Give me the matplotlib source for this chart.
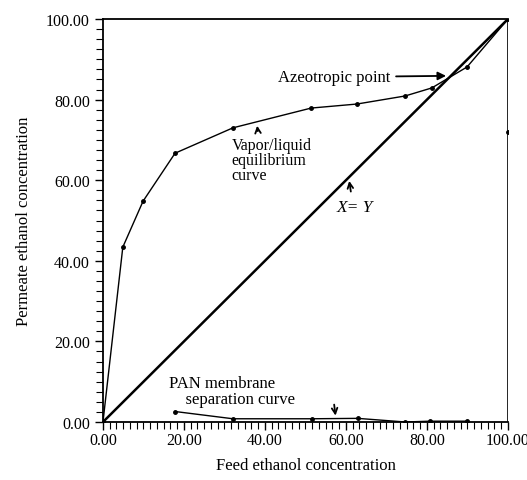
import numpy as np
import matplotlib
matplotlib.use("Agg")
import matplotlib.pyplot as plt
from matplotlib.ticker import MultipleLocator, FormatStrFormatter

plt.rcParams['font.family'] = ['Liberation Serif', 'DejaVu Serif']

# vapor/liquid equilibrium curve
vle_x = [0.0, 4.9, 9.9, 17.8, 32.1, 51.4, 62.7, 74.6, 81.2, 89.9, 100.0]
vle_y = [0.0, 43.4, 54.8, 66.7, 73.0, 77.9, 78.9, 80.9, 82.9, 88.1, 100.0]

# PAN membrane separation curve
pan_x = [17.8, 32.1, 51.5, 62.9, 74.6, 80.7, 89.8]
pan_y = [2.6, 0.8, 0.8, 0.9, 0.0, 0.2, 0.2]

# X = Y line
diag = [0.0, 100.0]

# point on right edge
edge_x = [100.0]
edge_y = [72.0]

fig = plt.figure(figsize=(5.27, 4.81), dpi=100)
ax = fig.add_axes([0.1954, 0.1206, 0.7685, 0.8378])

ax.plot(diag, diag, color='black', lw=1.8)
ax.plot(vle_x, vle_y, color='black', lw=1.0, marker='o', ms=2.5)
ax.plot(pan_x, pan_y, color='black', lw=1.0, marker='o', ms=2.5)
ax.plot([100, 100], [0, 100], color='black', lw=1.2)
ax.plot(edge_x, edge_y, 'ko', ms=2.5)

ax.set_xlim(0, 100)
ax.set_ylim(0, 100)
ax.xaxis.set_major_locator(MultipleLocator(20))
ax.yaxis.set_major_locator(MultipleLocator(20))
ax.xaxis.set_minor_locator(MultipleLocator(100 / 60))
ax.yaxis.set_minor_locator(MultipleLocator(2.5))
ax.xaxis.set_major_formatter(FormatStrFormatter('%.2f'))
ax.yaxis.set_major_formatter(FormatStrFormatter('%.2f'))
ax.tick_params(which='major', direction='out', length=6, width=1, labelsize=11.5)
ax.tick_params(which='minor', direction='out', length=5, width=0.8)
ax.tick_params(axis='x', which='major', pad=1.5)
for s in ax.spines.values():
    s.set_linewidth(1.3)
ax.spines['right'].set_visible(False)

ax.set_xlabel('Feed ethanol concentration', fontsize=12, labelpad=6)
ax.set_ylabel('Permeate ethanol concentration', fontsize=12, labelpad=10)

arrow = dict(arrowstyle='->', color='black', lw=1.3)
ax.annotate('Azeotropic point', xy=(85.4, 85.9), xytext=(71.0, 85.6),
            fontsize=12, ha='right', va='center',
            arrowprops=dict(arrowstyle='-|>', color='black', lw=1.3))
ax.annotate('', xy=(38.0, 74.2), xytext=(38.3, 71.5), arrowprops=arrow)
ax.text(31.8, 70.8, 'Vapor/liquid\nequilibrium\ncurve', fontsize=11.5,
        ha='left', va='top', linespacing=0.95)
ax.annotate('', xy=(60.7, 60.5), xytext=(61.3, 56.5), arrowprops=arrow)
ax.text(57.8, 53.3, 'X= Y', fontsize=12.5, fontstyle='italic',
        ha='left', va='center')
ax.text(16.2, 7.6, 'PAN membrane\n    separation curve', fontsize=12,
        ha='left', va='center', linespacing=1.0)
ax.annotate('', xy=(57.5, 0.9), xytext=(57.0, 5.0), arrowprops=arrow)

fig.savefig('out.png', dpi=100)
